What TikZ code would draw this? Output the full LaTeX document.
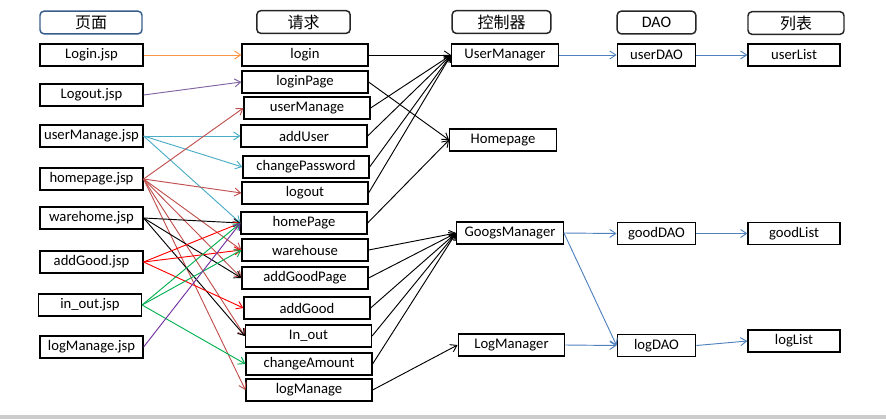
\documentclass[tikz,border=0pt]{standalone}
\usepackage{fontspec}
\setmainfont{Carlito}
\newfontfamily\cjkfont{Noto Sans CJK SC}
\usetikzlibrary{arrows.meta}

\definecolor{lnorange}{HTML}{F79646}
\definecolor{lnpurple}{HTML}{8064A2}
\definecolor{lncyan}{HTML}{4BACC6}
\definecolor{lnbrown}{HTML}{C0504D}
\definecolor{lnred}{HTML}{FF0000}
\definecolor{lngreen}{HTML}{00B050}
\definecolor{lnviolet}{HTML}{7030A0}
\definecolor{lnblue}{HTML}{4F81BD}
\definecolor{hdrblue}{HTML}{385D8A}

\tikzstyle{header} = [
  rectangle, rounded corners=3pt, minimum height=17pt, inner sep=0pt,
  text centered, draw=black!85, line width=1.1pt,
  font=\cjkfont\fontsize{12}{14}\selectfont
]
\tikzstyle{box} = [
  rectangle, minimum height=16.5pt, inner sep=0pt,
  text centered, draw=black, line width=0.9pt
]
\tikzstyle{pagebox} = [box, minimum width=77.25pt]
\tikzstyle{reqbox} = [box, minimum width=94.5pt]
\tikzstyle{ctrlbox} = [box, minimum width=80pt]
\tikzstyle{daobox} = [box, minimum width=59pt]
\tikzstyle{listbox} = [box, minimum width=69pt]
\tikzset{
  arrow/.style={
    line width=0.7pt,
    -{Straight Barb[length=4.5pt,width=6pt]}
  }
}

\begin{document}
\begin{tikzpicture}[
  x=0.75pt, y=-0.75pt,
  font=\fontsize{11}{13}\selectfont
]

\useasboundingbox (0,0) rectangle (886,419);
\fill[black!20] (0,415) rectangle (886,419);

% ------------------------------------------------
% CABECERAS
% ------------------------------------------------

\node[header, draw=hdrblue, minimum width=76.5pt] (h1) at (91,22.5) {页面};
\node[header, minimum width=70pt] (h2) at (303.5,22) {请求};
\node[header, minimum width=74pt] (h3) at (501.5,22) {控制器};
\node[header, minimum width=59pt, font=\fontsize{12}{14}\selectfont] (h4) at (656.5,22.5) {DAO};
\node[header, minimum width=72pt] (h5) at (796,23) {列表};

% ------------------------------------------------
% COLUMNA 1 – páginas
% ------------------------------------------------

\node[pagebox] (p1) at (91.5,55) {Login.jsp};
\node[pagebox] (p2) at (91.5,95) {Logout.jsp};
\node[pagebox] (p3) at (91.5,136) {userManage.jsp};
\node[pagebox] (p4) at (91.5,179) {homepage.jsp};
\node[pagebox] (p5) at (91.5,218) {warehome.jsp};
\node[pagebox] (p6) at (91.5,262) {addGood.jsp};
\node[pagebox] (p7) at (90,305) {in\_out.jsp};
\node[pagebox] (p8) at (91.5,347) {logManage.jsp};

% ------------------------------------------------
% COLUMNA 2 – peticiones
% ------------------------------------------------

\node[reqbox] (q1) at (305,55) {login};
\node[reqbox] (q2) at (305,82) {loginPage};
\node[reqbox] (q3) at (307,108) {userManage};
\node[reqbox] (q4) at (304,136) {addUser};
\node[reqbox] (q5) at (306,167) {changePassword};
\node[reqbox] (q6) at (305,193) {logout};
\node[reqbox] (q7) at (304,223) {homePage};
\node[reqbox] (q8) at (305,250) {warehouse};
\node[reqbox] (q9) at (305,278) {addGoodPage};
\node[reqbox] (q10) at (307,308) {addGood};
\node[reqbox] (q11) at (308.5,336) {In\_out};
\node[reqbox] (q12) at (309,364) {changeAmount};
\node[reqbox] (q13) at (309,390) {logManage};

% ------------------------------------------------
% COLUMNAS 3, 4 y 5 – controladores, DAO y listas
% ------------------------------------------------

\node[ctrlbox] (c1) at (505,55) {UserManager};
\node[ctrlbox] (c2) at (503,140) {Homepage};
\node[ctrlbox] (c3) at (510,233) {GoogsManager};
\node[ctrlbox] (c4) at (511.5,345) {LogManager};

\node[daobox] (d1) at (656.5,55) {userDAO};
\node[daobox] (d2) at (656.5,233.5) {goodDAO};
\node[daobox] (d3) at (656.5,345.5) {logDAO};

\node[listbox] (t1) at (794,55) {userList};
\node[listbox] (t2) at (794,233.5) {goodList};
\node[listbox] (t3) at (794,341) {logList};

% ------------------------------------------------
% FLECHAS PÁGINAS -> PETICIONES
% ------------------------------------------------

\draw[arrow, lnorange] (p1.east) -- (q1.west);
\draw[arrow, lnpurple] (p2.east) -- (q2.west);

\draw[arrow, lncyan] (p3.east) -- (q4.west);
\draw[arrow, lncyan] (p3.east) -- (q5.west);
\draw[arrow, lncyan] (p3.east) -- (q7.west);

\draw[arrow, lnbrown] (p4.east) -- (q3.west);
\draw[arrow, lnbrown] (p4.east) -- (q6.west);
\draw[arrow, lnbrown] (p4.east) -- (q8.west);
\draw[arrow, lnbrown] (p4.east) -- (q9.west);
\draw[arrow, lnbrown] (p4.east) -- (q11.west);
\draw[arrow, lnbrown] (p4.east) -- (q13.west);

\draw[arrow, black] (p5.east) -- (q7.west);
\draw[arrow, black] (p5.east) -- (q9.west);
\draw[arrow, black] (p5.east) -- (q11.west);

\draw[arrow, lnred] (p6.east) -- (q7.west);
\draw[arrow, lnred] (p6.east) -- (q8.west);
\draw[arrow, lnred] (p6.east) -- (q10.west);

\draw[arrow, lngreen] (p7.east) -- (q7.west);
\draw[arrow, lngreen] (p7.east) -- (q8.west);
\draw[arrow, lngreen] (p7.east) -- (q12.west);

\draw[arrow, lnviolet] (p8.east) -- (q7.west);

% ------------------------------------------------
% FLECHAS PETICIONES -> CONTROLADORES
% ------------------------------------------------

\draw[arrow] (q1.east) -- (c1.west);
\draw[arrow] (q3.east) -- (c1.west);
\draw[arrow] (q4.east) -- (c1.west);
\draw[arrow] (q5.east) -- (c1.west);
\draw[arrow] (q6.east) -- (c1.west);

\draw[arrow] (q2.east) -- (c2.west);
\draw[arrow] (q7.east) -- (c2.west);

\draw[arrow] (q8.east) -- (c3.west);
\draw[arrow] (q9.east) -- (c3.west);
\draw[arrow] (q10.east) -- (c3.west);
\draw[arrow] (q11.east) -- (c3.west);
\draw[arrow] (q12.east) -- (c3.west);

\draw[arrow] (q13.east) -- (c4.west);

% ------------------------------------------------
% FLECHAS CONTROLADORES -> DAO -> LISTAS
% ------------------------------------------------

\draw[arrow, lnblue] (c1.east) -- (d1.west);
\draw[arrow, lnblue] (c3.east) -- (d2.west);
\draw[arrow, lnblue] (c3.east) -- (d3.west);
\draw[arrow, lnblue] (c4.east) -- (d3.west);

\draw[arrow, lnblue] (d1.east) -- (t1.west);
\draw[arrow, lnblue] (d2.east) -- (t2.west);
\draw[arrow, lnblue] (d3.east) -- (t3.west);

\end{tikzpicture}
\end{document}
